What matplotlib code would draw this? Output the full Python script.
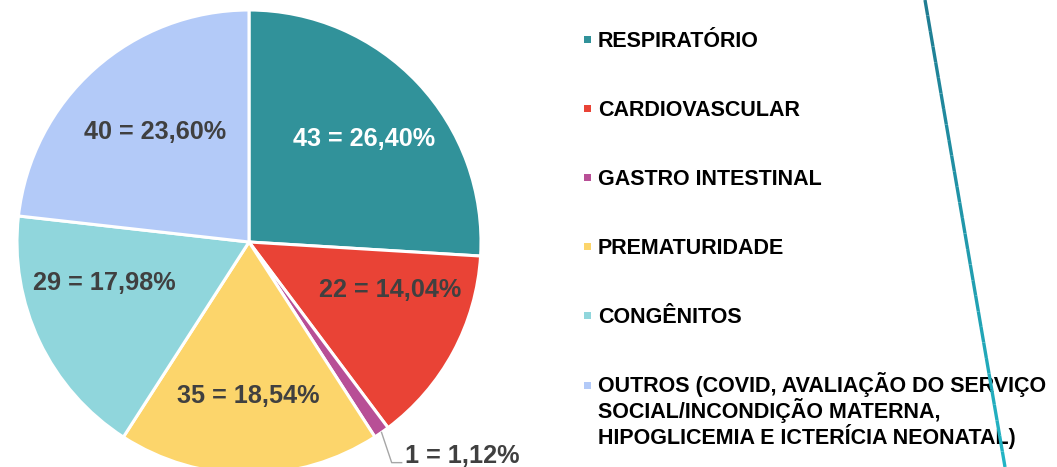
import numpy as np
import matplotlib
matplotlib.use("Agg")
import matplotlib.pyplot as plt
from matplotlib.lines import Line2D
from matplotlib.patches import Rectangle
from matplotlib.collections import LineCollection
from matplotlib.colors import LinearSegmentedColormap

# ---- data ----
categories = ["RESPIRATÓRIO", "CARDIOVASCULAR", "GASTRO INTESTINAL",
              "PREMATURIDADE", "CONGÊNITOS",
              "OUTROS (COVID, AVALIAÇÃO DO SERVIÇO\nSOCIAL/INCONDIÇÃO MATERNA,\nHIPOGLICEMIA E ICTERÍCIA NEONATAL)"]
counts = [43, 22, 1, 35, 29, 40]
percents = [26.40, 14.04, 1.12, 18.54, 17.98, 23.60]
pct_labels = ["26,40%", "14,04%", "1,12%", "18,54%", "17,98%", "23,60%"]

# ---- style ----
colors = ["#31929A", "#E94336", "#B84F96", "#FCD56B", "#90D6DC", "#B3CAF8"]
label_colors = ["white", "#404040", "#404040", "#404040", "#404040", "#404040"]
# (angle offset from wedge middle in degrees, radius) for inside labels
label_adjust = [(-1.5, 0.666), (9.6, 0.642), None, (-0.4, 0.664), (-9.6, 0.647), (-1.3, 0.624)]
FONT = "Liberation Sans"

W, H = 1057, 467
fig = plt.figure(figsize=(W / 100, H / 100), dpi=100)
fig.patch.set_facecolor("white")

cx, cy, R = 249, 242, 232  # pixel centre / radius
ax = fig.add_axes([(cx - R) / W, (H - cy - R) / H, 2 * R / W, 2 * R / H])

wedges, _ = ax.pie(percents, colors=colors, startangle=90, counterclock=False,
                   radius=1, wedgeprops=dict(edgecolor="white", linewidth=2.2))
ax.set_xlim(-1, 1)
ax.set_ylim(-1, 1)
ax.set_aspect("equal")
ax.axis("off")
for w in wedges:
    w.set_clip_on(False)

for i, w in enumerate(wedges):
    mid = (w.theta1 + w.theta2) / 2.0
    text = f"{counts[i]} = {pct_labels[i]}"
    adj = label_adjust[i]
    if adj is not None:
        a = np.deg2rad(mid + adj[0])
        ax.text(adj[1] * np.cos(a), adj[1] * np.sin(a), text, ha="center", va="center",
                fontsize=18.2, fontweight="bold", color=label_colors[i], family=FONT)
    else:
        a = np.deg2rad(mid)
        x0, y0 = np.cos(a), np.sin(a)
        ex, ey = 0.615, -0.951
        ax.add_line(Line2D([x0, ex, ex + 0.043], [y0, ey, ey], color="#A6A6A6",
                           linewidth=1.0, clip_on=False))
        ax.text(ex + 0.058, ey - 0.002, text, ha="left", va="baseline",
                fontsize=18.2, fontweight="bold", color=label_colors[i], family=FONT,
                clip_on=False)

# ---- legend ----
line_px = 25.2
for i, lab in enumerate(categories):
    ypx = 39 + i * 69 + (1.5 if i == 5 else 0)
    nlines = lab.count("\n") + 1
    fig.patches.append(Rectangle((584 / W, (H - ypx - 3.5) / H), 7 / W, 7 / H,
                                 transform=fig.transFigure, facecolor=colors[i],
                                 edgecolor="none"))
    base = ypx + 7.7 + (nlines - 1) * line_px
    fig.text(598 / W, (H - base) / H, lab, ha="left", va="baseline",
             fontsize=15.5, fontweight="bold", color="black", family=FONT,
             linespacing=1.03)

# ---- decorative line (gradient teal) ----
n = 30
xs = np.linspace(925 / W, 1005 / W, n + 1)
ys = np.linspace(1.0, 0.0, n + 1)
segs = [[(xs[k], ys[k]), (xs[k + 1], ys[k + 1])] for k in range(n)]
cmap = LinearSegmentedColormap.from_list("tl", ["#1F7C92", "#22B4C4"])
lc = LineCollection(segs, colors=[cmap(k / (n - 1)) for k in range(n)],
                    linewidths=2.4, transform=fig.transFigure, zorder=10,
                    capstyle="butt")
fig.add_artist(lc)

fig.savefig("out.png", dpi=100, facecolor="white")
